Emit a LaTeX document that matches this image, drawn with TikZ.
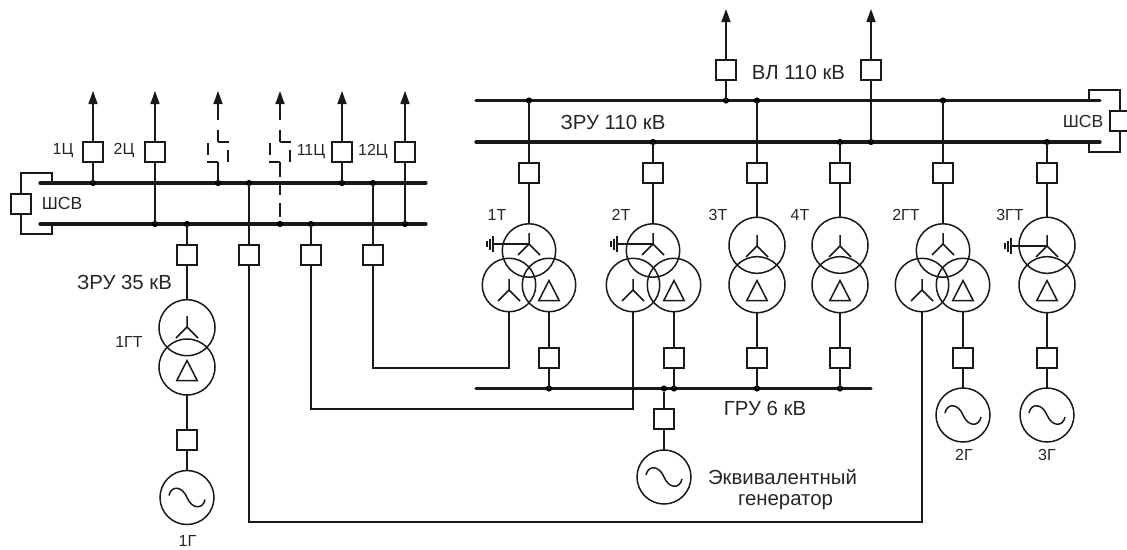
\documentclass[tikz,border=0pt]{standalone}
\usepackage{fontspec}
\setmainfont{Liberation Sans}
\usetikzlibrary{arrows.meta}
\tikzset{
  thinl/.style={line width=1.5pt,draw=black!90},
  busl/.style={line width=3.2pt,draw=black!90,line cap=round},
  brk/.style={draw=black!90,line width=1.5pt,fill=white,minimum size=20pt,inner sep=0pt,outer sep=0pt},
  wind/.style={draw=black!90,line width=1.5pt,circle,minimum size=#1,inner sep=0pt,outer sep=0pt},
  wind/.default=54pt,
  jun/.style={circle,fill=black,minimum size=6.2pt,inner sep=0pt,outer sep=0pt},
  lab/.style={font=\fontsize{16}{19}\selectfont,text=black!85,inner sep=0pt},
  biglab/.style={font=\fontsize{20.4}{24}\selectfont,text=black!85,inner sep=0pt},
  midlab/.style={font=\fontsize{17.5}{21}\selectfont,text=black!85,inner sep=0pt},
  arr/.style={line width=1.5pt,draw=black!90,-{Triangle[length=13pt,width=9pt]}},
  dsh/.style={line width=1.5pt,draw=black!90},
  ygl/.pic={\draw[thinl] (0,-11)--(0,0) (-11,11)--(0,0)--(11,11);},
  dgl/.pic={\draw[thinl,line join=miter] (0,-10)--(-10.2,10)--(10.2,10)--cycle;},
  sgl/.pic={\draw[thinl] (-18,-2) .. controls (-16,-12) and (-5,-12) .. (0,0) .. controls (5,12) and (16,12) .. (18,2);},
  ggl/.pic={\draw[thinl] (0,0)--(-36,0);
    \draw[thinl] (-36,-8)--(-36,8) (-39,-5.5)--(-39,5.5) (-42,-3)--(-42,3);},
}
\begin{document}
\begin{tikzpicture}[x=1pt,y=-1pt]
\useasboundingbox (0,0) rectangle (1127,549);
% ---- left bus (35 kV)
\coordinate (LTa) at (40,183); \coordinate (LTb) at (426,183);
\coordinate (LBa) at (40,224); \coordinate (LBb) at (426,224);
\draw[busl] (LTa)--(LTb); \draw[busl] (LBa)--(LBb);
% ---- right bus (110 kV)
\coordinate (RTa) at (476,100.5); \coordinate (RTb) at (1100,100.5);
\coordinate (RBa) at (476,142); \coordinate (RBb) at (1100,142);
\draw[busl] (RTa)--(RTb); \draw[busl] (RBa)--(RBb);
% ---- 6 kV bus
\coordinate (GRa) at (476,388.5); \coordinate (GRb) at (871,388.5);
\draw[busl] (GRa)--(GRb);
% ---- left section breaker
\node[brk] (sl) at (21,204) {};
\coordinate (sl1) at (52,183); \coordinate (sl2) at (52,173); \coordinate (sl3) at (21,173);
\coordinate (sl4) at (21,234); \coordinate (sl5) at (52,234); \coordinate (sl6) at (52,224);
\draw[thinl] (sl1)--(sl2)--(sl3)--(sl);
\draw[thinl] (sl)--(sl4)--(sl5)--(sl6);
% ---- right section breaker
\node[brk] (sr) at (1120,121) {};
\coordinate (sr1) at (1089,100.5); \coordinate (sr2) at (1089,90) ; \coordinate (sr3) at (1120,90);
\coordinate (sr4) at (1120,152); \coordinate (sr5) at (1089,152); \coordinate (sr6) at (1089,142);
\draw[thinl] (sr1)--(sr2)--(sr3)--(sr);
\draw[thinl] (sr)--(sr4)--(sr5)--(sr6);
% ---- 35 kV feeders
\foreach \n/\x/\yy in {a/93/183,b/155/224,e/342/183,f/405/224}{
  \node[brk] (f\n) at (\x,152) {};
  \coordinate (ft\n) at (\x,91);
  \coordinate (fb\n) at (\x,\yy);
  \node[jun] (jf\n) at (fb\n) {};
  \draw[thinl] (f\n)--(fb\n);
  \draw[arr] (f\n)--(ft\n);
}
% ---- dashed (reserve) feeders
\foreach \n/\x/\yy in {c/218/183,d/280/224}{
  \coordinate (ft\n) at (\x,91);
  \coordinate (fb\n) at (\x,\yy);
  \node[jun] (jf\n) at (fb\n) {};
  \coordinate (d1\n) at (\x,108);
  \coordinate (d2\n) at (\x,120);
  \coordinate (d3\n) at (\x,130);
  \coordinate (d4\n) at (\x,142);
  \draw[arr] (d1\n)--(ft\n);
  \draw[dsh] (d2\n)--(d1\n) (d4\n)--(d3\n);
  \draw[dsh] (d4\n)--+(11,0) (\x,162)--+(-11,0);
  \draw[dsh] (\x-10,143)--+(0,12) (\x+10,150)--+(0,12);
  \draw[dsh] (\x,162)--(\x,177);
}
\draw[dsh] (218,177)--(218,183);
\draw[dsh] (280,183)--(280,195) (280,203)--(280,217);
% ---- lower 35 kV breakers
\foreach \n/\x/\yy in {a/187/224,b/249/183,c/311/224,d/373/183}{
  \node[brk] (q\n) at (\x,255) {};
  \coordinate (qb\n) at (\x,\yy);
  \node[jun] (jq\n) at (qb\n) {};
  \draw[thinl] (q\n)--(qb\n);
}
% ---- 1GT unit
\node[wind=56pt] (w1a) at (187,327.7) {};
\node[wind=56pt] (w1b) at (187,367) {};
\pic at (187,327) {ygl};
\pic at (187,370.5) {dgl};
\node[brk] (b1g) at (187,440) {};
\node[wind] (g1) at (187,497.5) {};
\pic at (187,497.5) {sgl};
\draw[thinl] (qa)--(w1a);
\draw[thinl] (w1b)--(b1g); \draw[thinl] (b1g)--(g1);
% ---- three-winding transformers
\foreach \n/\x/\lx/\rx in {A/529/509/549,B/653/633/674,E/943/922/963}{
  \node[brk] (u\n) at (\x,173) {};
  \node[wind=53.5pt] (t\n) at (\x,250.5) {};
  \node[wind=53.5pt] (l\n) at (\lx,285) {};
  \node[wind=53.5pt] (r\n) at (\rx,285) {};
  \pic at (\x,244) {ygl};
  \pic at (\lx,290) {ygl};
  \pic at (\rx,290.5) {dgl};
  \draw[thinl] (u\n)--(t\n);
}
\pic at (529,244) {ggl};
\pic at (653,244) {ggl};
% ---- two-winding transformers
\foreach \n/\x in {C/757,D/840,F/1047}{
  \node[brk] (u\n) at (\x,173) {};
  \node[wind=56pt] (t\n) at (\x,245.3) {};
  \node[wind=56pt] (l\n) at (\x,284.7) {};
  \pic at (\x,246) {ygl};
  \pic at (\x,290.5) {dgl};
  \draw[thinl] (u\n)--(t\n);
}
\pic at (1047,246) {ggl};
% ---- upper bus junctions
\foreach \n/\x/\yy in {A/529/100.5,B/653/142,C/757/100.5,D/840/142,E/943/100.5,F/1047/142}{
  \coordinate (ub\n) at (\x,\yy);
  \node[jun] (ju\n) at (ub\n) {};
  \draw[thinl] (u\n)--(ub\n);
}
% ---- 110 kV line feeders
\foreach \n/\x/\yy in {a/726/100.5,b/871/142}{
  \node[brk] (v\n) at (\x,70) {};
  \coordinate (vt\n) at (\x,9);
  \coordinate (vb\n) at (\x,\yy);
  \node[jun] (jv\n) at (vb\n) {};
  \draw[thinl] (v\n)--(vb\n);
  \draw[arr] (v\n)--(vt\n);
}
% ---- 6 kV breakers
\foreach \n/\x/\src in {a/549/rA,b/674/rB,c/757/lC,d/840/lD}{
  \node[brk] (s\n) at (\x,358) {};
  \coordinate (sb\n) at (\x,388.5);
  \node[jun] (js\n) at (sb\n) {};
  \draw[thinl] (\src)--(s\n);
  \draw[thinl] (s\n)--(sb\n);
}
% ---- equivalent generator
\coordinate (eqj) at (664,388.5);
\node[jun] (jeq) at (eqj) {};
\node[brk] (beq) at (664,419) {};
\node[wind] (geq) at (664,477) {};
\pic at (664,477) {sgl};
\draw[thinl] (jeq)--(beq); \draw[thinl] (beq)--(geq);
% ---- 2G and 3G
\node[brk] (bg2) at (963,358) {};
\node[wind] (g2) at (963,415) {};
\pic at (963,415) {sgl};
\draw[thinl] (rE)--(bg2); \draw[thinl] (bg2)--(g2);
\node[brk] (bg3) at (1047,358) {};
\node[wind] (g3) at (1047,415) {};
\pic at (1047,415) {sgl};
\draw[thinl] (lF)--(bg3); \draw[thinl] (bg3)--(g3);
% ---- cross connections
\coordinate (k1) at (509,368); \coordinate (k2) at (373,368);
\draw[thinl] (lA)--(k1)--(k2)--(qd);
\coordinate (k3) at (633,409); \coordinate (k4) at (311,409);
\draw[thinl] (lB)--(k3)--(k4)--(qc);
\coordinate (k5) at (922,522); \coordinate (k6) at (249,522);
\draw[thinl] (lE)--(k5)--(k6)--(qb);
% ---- labels
\node[lab] (t01) at (63,151) {1Ц};
\node[lab] (t02) at (124,151) {2Ц};
\node[lab] (t03) at (311,152) {11Ц};
\node[lab] (t04) at (373,152) {12Ц};
\node[midlab] (t05) at (62,203.5) {ШСВ};
\node[biglab] (t06) at (124.5,282) {ЗРУ 35 кВ};
\node[lab] (t07) at (129,342) {1ГТ};
\node[lab] (t08) at (187.5,541) {1Г};
\node[biglab] (t09) at (798.5,72) {ВЛ 110 кВ};
\node[biglab] (t10) at (613,122) {ЗРУ 110 кВ};
\node[midlab] (t11) at (1083,121) {ШСВ};
\node[lab] (t12) at (497,215) {1Т};
\node[lab] (t13) at (621,215) {2Т};
\node[lab] (t14) at (718,215) {3Т};
\node[lab] (t15) at (800,215) {4Т};
\node[lab] (t16) at (906,215) {2ГТ};
\node[lab] (t17) at (1010,215) {3ГТ};
\node[biglab] (t18) at (765,408) {ГРУ 6 кВ};
\node[biglab] (t19) at (782.5,477) {Эквивалентный};
\node[biglab] (t20) at (785.5,502) {генератор};
\node[lab] (t21) at (964,455) {2Г};
\node[lab] (t22) at (1047,455) {3Г};
\end{tikzpicture}
\end{document}
